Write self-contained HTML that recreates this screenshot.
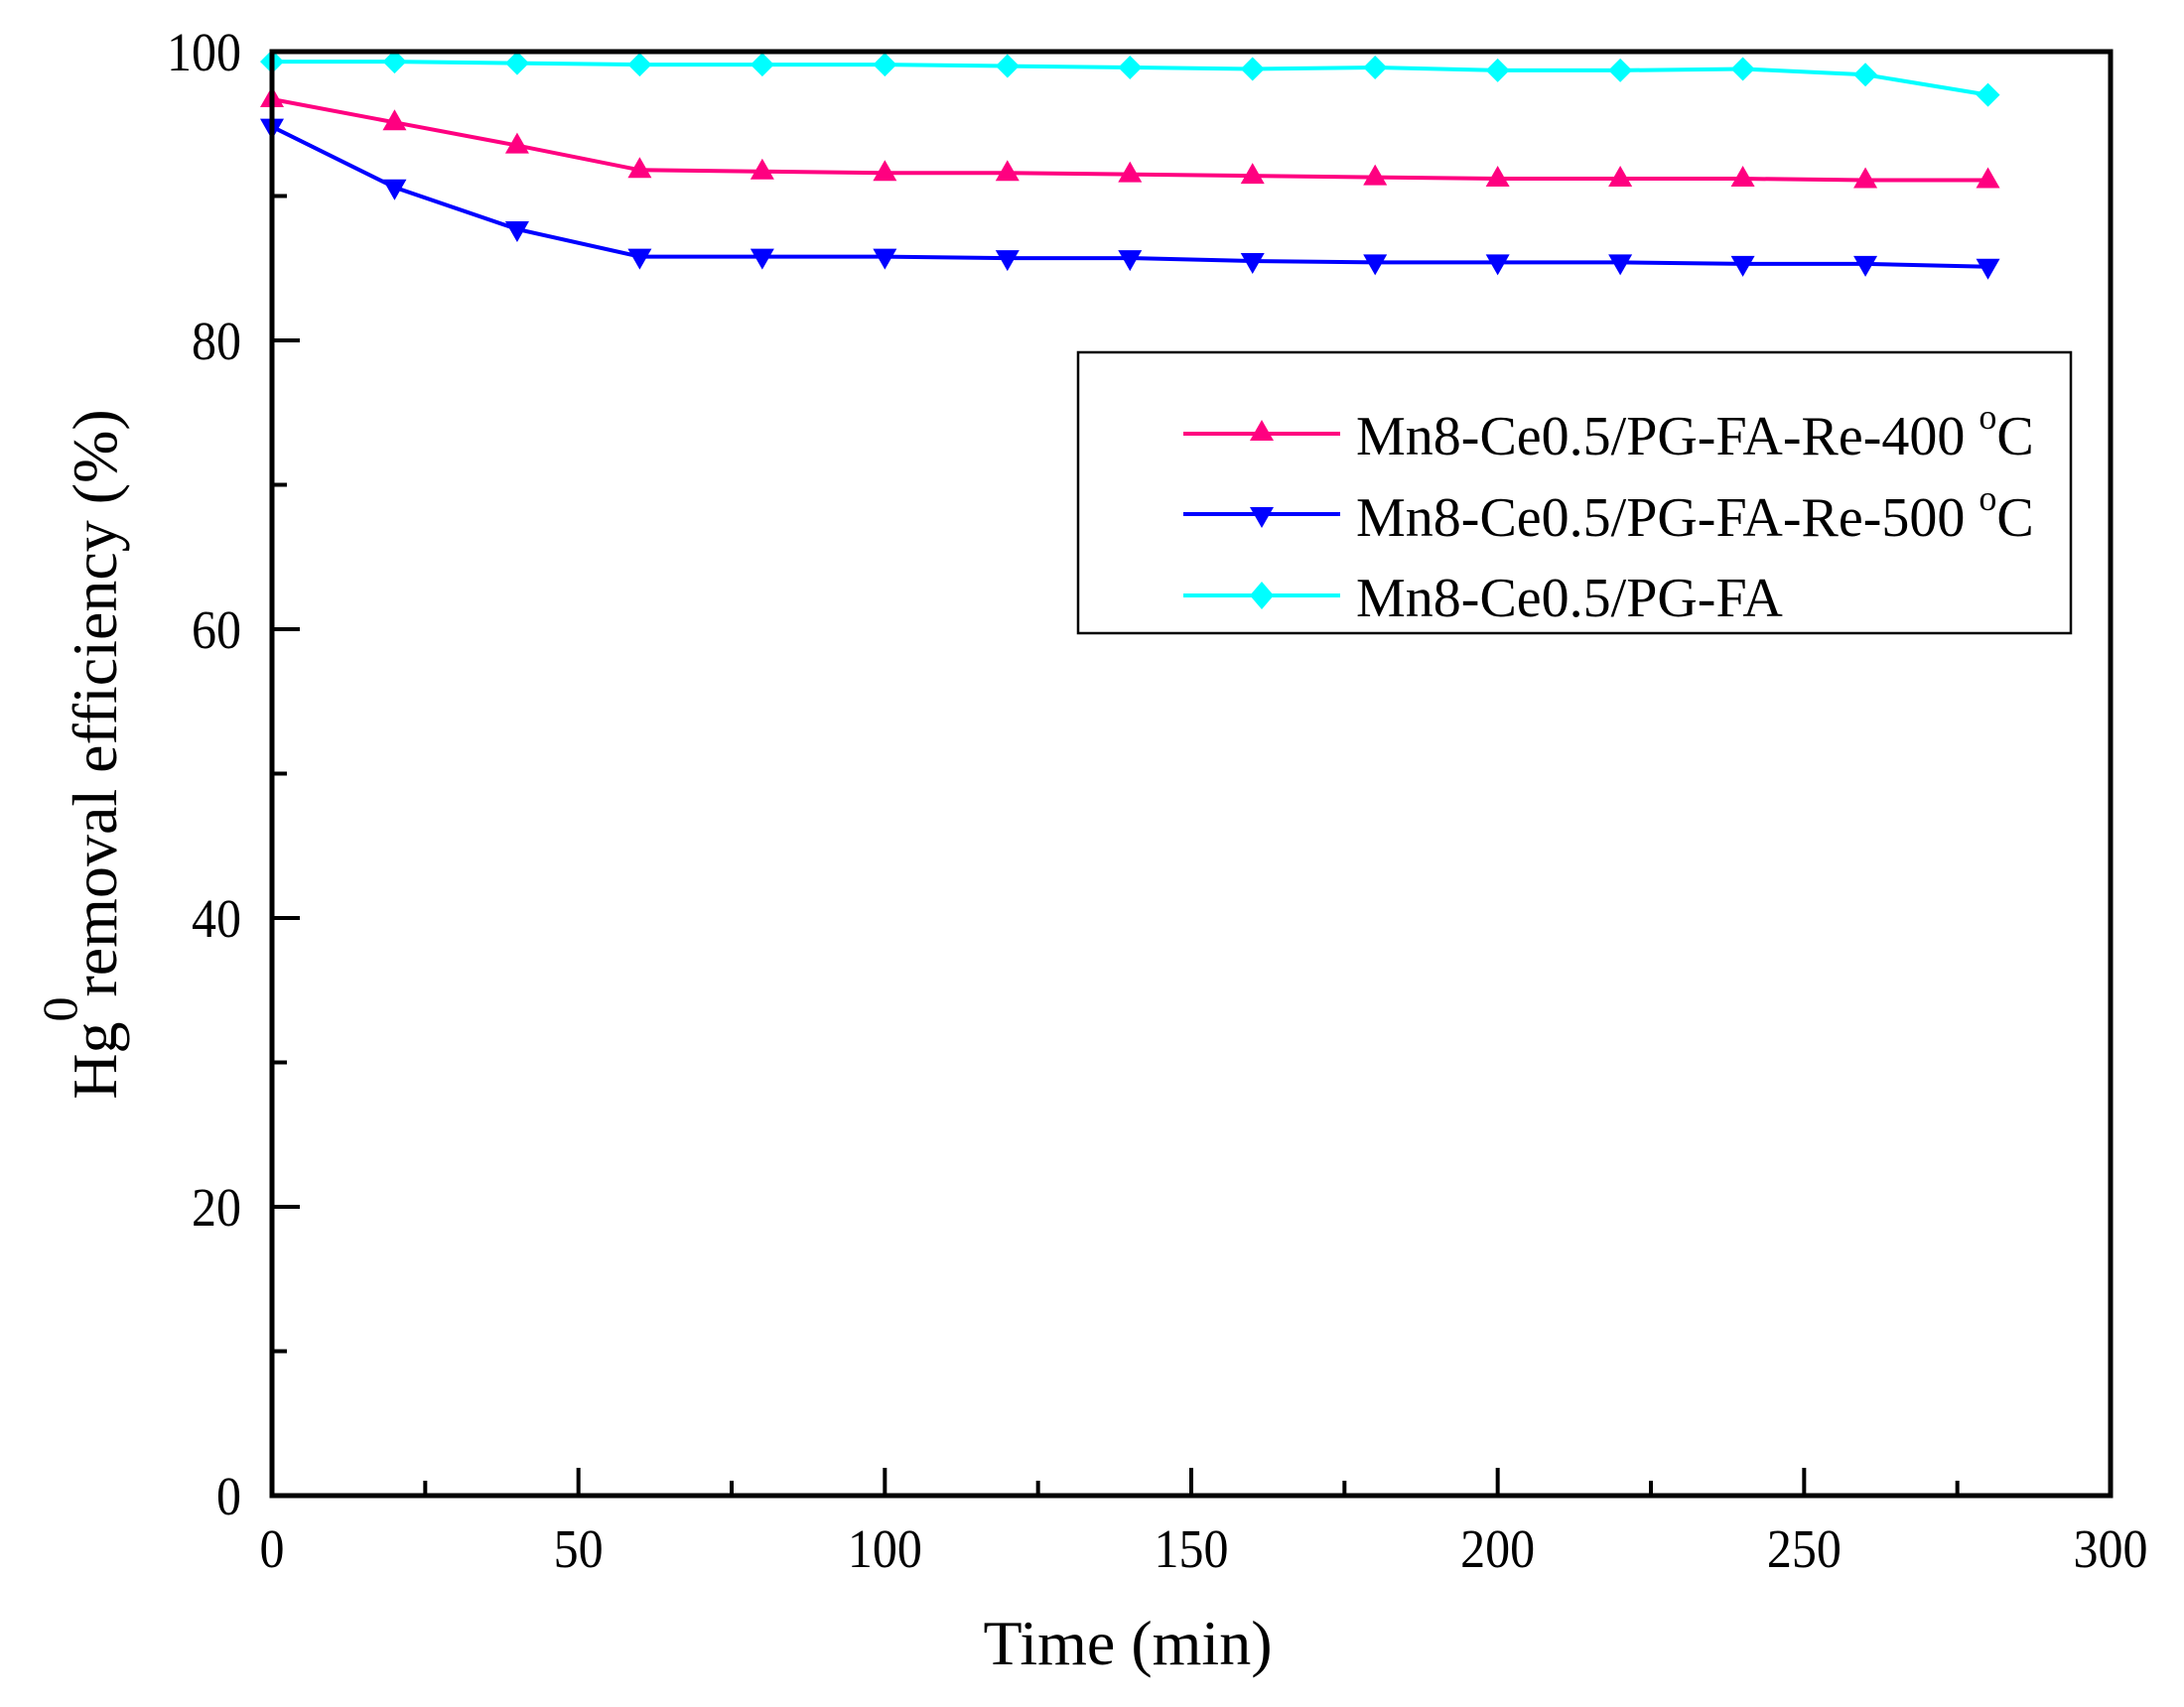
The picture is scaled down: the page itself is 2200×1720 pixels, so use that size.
<!DOCTYPE html>
<html><head><meta charset="utf-8"><style>body{margin:0;background:#fff}svg{display:block}</style></head>
<body>
<svg width="2200" height="1720" viewBox="0 0 2200 1720" xmlns="http://www.w3.org/2000/svg" font-family="Liberation Serif, serif">
<rect width="2200" height="1720" fill="#fff"/>
<g id="ticks" stroke="#000" stroke-width="4"></g>
<g id="series"></g>
<rect x="274" y="52" width="1852" height="1455" fill="none" stroke="#000" stroke-width="5"/>
<g id="labels" font-size="55" fill="#000"></g>
<text x="1136" y="1677" font-size="64" text-anchor="middle">Time (min)</text>
<text transform="translate(117,760) rotate(-90)" font-size="64" text-anchor="middle">Hg<tspan dy="-40" font-size="50">0</tspan><tspan dy="40">removal efficiency (%)</tspan></text>
<rect x="1086" y="355" width="1000" height="283" fill="#fff" stroke="#000" stroke-width="2.5"/>
<g font-size="56">
<line x1="1192" y1="437" x2="1350" y2="437" stroke="#ff0080" stroke-width="4"/>
<polygon points="1271,423 1283,444 1259,444" fill="#ff0080"/>
<text x="1366" y="458">Mn8-Ce0.5/PG-FA-Re-400 <tspan dy="-26" font-size="36">o</tspan><tspan dy="26">C</tspan></text>
<line x1="1192" y1="518" x2="1350" y2="518" stroke="#0000ff" stroke-width="4"/>
<polygon points="1259,511 1283,511 1271,532" fill="#0000ff"/>
<text x="1366" y="540">Mn8-Ce0.5/PG-FA-Re-500 <tspan dy="-26" font-size="36">o</tspan><tspan dy="26">C</tspan></text>
<line x1="1192" y1="600" x2="1350" y2="600" stroke="#00ffff" stroke-width="4"/>
<polygon points="1271,586 1283,600 1271,614 1259,600" fill="#00ffff"/>
<text x="1366" y="621">Mn8-Ce0.5/PG-FA</text>
</g>
<script>
var X=v=>274+v*1852/300, Y=v=>1507-v*14.55, ns="http://www.w3.org/2000/svg";
function el(p,t,a){var e=document.createElementNS(ns,t);for(var k in a)e.setAttribute(k,a[k]);p.appendChild(e);return e;}
var tk=document.getElementById('ticks'),lb=document.getElementById('labels');
for(var v=0;v<=300;v+=25){var maj=v%50==0;el(tk,'line',{x1:X(v),x2:X(v),y1:1507,y2:1507-(maj?28:15)});
 if(maj){var s=String(v),w=25*s.length;var t=el(lb,'text',{x:X(v)-w/2,y:1579,textLength:w,lengthAdjust:'spacingAndGlyphs'});t.textContent=s;}}
for(var v=0;v<=100;v+=10){var maj=v%20==0;el(tk,'line',{x1:274,x2:274+(maj?28:15),y1:Y(v),y2:Y(v)});
 if(maj){var s=String(v),w=25*s.length;var t=el(lb,'text',{x:243-w,y:Y(v)+19,textLength:w,lengthAdjust:'spacingAndGlyphs'});t.textContent=s;}}
var S=document.getElementById('series');
var data=[
 ['#00ffff','d',[99.3,99.3,99.2,99.1,99.1,99.1,99.0,98.9,98.8,98.9,98.7,98.7,98.8,98.4,97.0]],
 ['#ff0080','u',[96.7,95.1,93.5,91.8,91.7,91.6,91.6,91.5,91.4,91.3,91.2,91.2,91.2,91.1,91.1]],
 ['#0000ff','v',[94.8,90.6,87.7,85.8,85.8,85.8,85.7,85.7,85.5,85.4,85.4,85.4,85.3,85.3,85.1]]];
data.forEach(function(s){
 var pts=s[2].map((v,i)=>X(i*20)+','+Y(v)).join(' ');
 el(S,'polyline',{points:pts,fill:'none',stroke:s[0],'stroke-width':4});
 s[2].forEach(function(v,i){var x=X(i*20),y=Y(v),p;
  if(s[1]=='d')p=[x,y-12,x+12,y,x,y+12,x-12,y];
  else if(s[1]=='u')p=[x,y-13,x+12,y+8,x-12,y+8];
  else p=[x-12,y-8,x+12,y-8,x,y+13];
  el(S,'polygon',{points:p.join(' '),fill:s[0]});});
});
</script>
</svg>
</body></html>
